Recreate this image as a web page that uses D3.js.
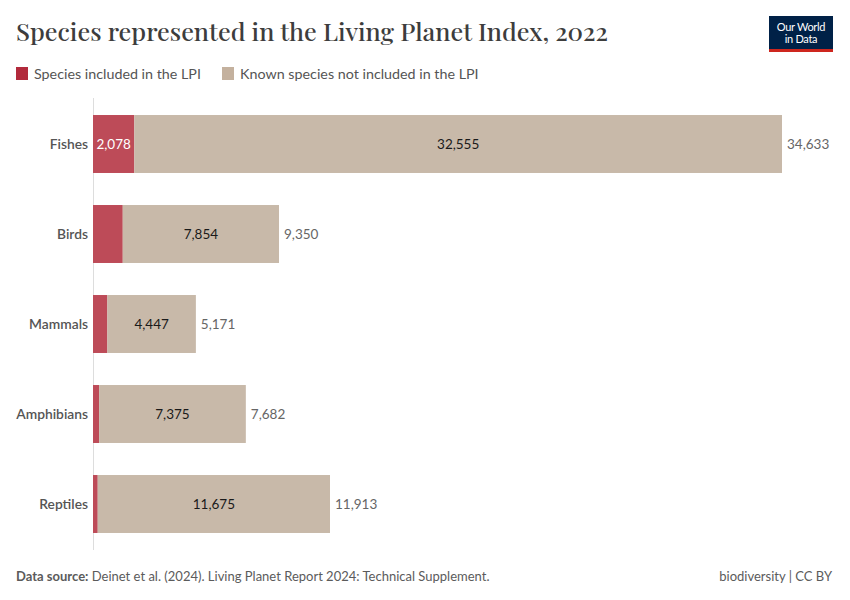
<!DOCTYPE html>
<html><head><meta charset="utf-8">
<script src="https://cdn.jsdelivr.net/npm/d3@7"></script>
<style>body{margin:0;background:#fff}svg{display:block}text{font-family:Lato,"Noto Sans",sans-serif}</style>
</head><body><svg id="c" width="850" height="600"></svg>
<script>
const categories = ["Fishes","Birds","Mammals","Amphibians","Reptiles"];
const included = [2078,1496,724,307,238];
const notIncluded = [32555,7854,4447,7375,11675];
const seriesNames = ["Species included in the LPI","Known species not included in the LPI"];
const colors = ["#bd4b58","#c8b9a9"];
const legendColors = ["#b22a3c","#c4b19e"];

const svg = d3.select("#c");
const fmt = d3.format(",");
const data = categories.map((c,i)=>({c, a:included[i], b:notIncluded[i], t:included[i]+notIncluded[i]}));

// title
const title = svg.append("text").attr("x",16).attr("y",41)
  .style("font-family","'Playfair Display','DejaVu Serif','Liberation Serif',serif")
  .style("font-size","25px").style("font-weight","500").attr("fill","#3d3d3d").text("Species represented in the Living Planet Index, 2022");
title.attr("textLength",592).attr("lengthAdjust","spacingAndGlyphs");

// logo
const logo = svg.append("g").attr("transform","translate(769,16)");
logo.append("rect").attr("width",64).attr("height",36).attr("fill","#002147");
logo.append("rect").attr("y",33).attr("width",64).attr("height",3).attr("fill","#ce261e");
logo.append("text").attr("x",32).attr("y",15).attr("text-anchor","middle").attr("fill","#fff").style("font-size","11px").style("letter-spacing","-0.3px").text("Our World");
logo.append("text").attr("x",32).attr("y",27).attr("text-anchor","middle").attr("fill","#fff").style("font-size","11px").style("letter-spacing","-0.3px").text("in Data");

// legend
const legX = [16,222];
seriesNames.forEach((n,i)=>{
  svg.append("rect").attr("x",legX[i]).attr("y",67).attr("width",12).attr("height",13).attr("fill",legendColors[i]);
  svg.append("text").attr("x",legX[i]+18).attr("y",78.5).style("font-size","14.3px").attr("fill","#555").text(n);
});

const x = d3.scaleLinear().domain([0,34633]).range([93,782]);
const y = d3.scaleBand().domain(categories).range([99,549]).paddingInner(0.356).paddingOuter(0.178);

// axis line
svg.append("line").attr("x1",93.5).attr("x2",93.5).attr("y1",98).attr("y2",550).attr("stroke","#ddd").attr("stroke-width",1);

const g = svg.append("g");
g.selectAll(".a").data(data).join("rect").attr("x",x(0)).attr("y",d=>y(d.c))
  .attr("width",d=>x(d.a)-x(0)).attr("height",y.bandwidth()).attr("fill",colors[0]);
g.selectAll(".b").data(data).join("rect").attr("x",d=>x(d.a)).attr("y",d=>y(d.c))
  .attr("width",d=>x(d.t)-x(d.a)).attr("height",y.bandwidth()).attr("fill",colors[1]);

// category labels
g.selectAll(".cl").data(data).join("text").attr("x",88).attr("y",d=>y(d.c)+y.bandwidth()/2+5)
  .attr("text-anchor","end").style("font-size","13.8px").style("font-weight","600").attr("fill","#555").text(d=>d.c);

// inside labels
data.forEach(d=>{
  const cy = y(d.c)+y.bandwidth()/2+5;
  if (x(d.a)-x(0) > 35) {
    g.append("text").attr("x",(x(0)+x(d.a))/2).attr("y",cy).attr("text-anchor","middle")
      .style("font-size","13.5px").attr("fill","#fff").text(fmt(d.a));
  }
  g.append("text").attr("x",(x(d.a)+x(d.t))/2).attr("y",cy).attr("text-anchor","middle")
    .style("font-size","13.5px").attr("fill","#1a1a1a").text(fmt(d.b));
  g.append("text").attr("x",x(d.t)+5).attr("y",cy).style("font-size","13.5px").attr("fill","#666").text(fmt(d.t));
});

// footer
const f = svg.append("text").attr("x",16).attr("y",581).style("font-size","13px").attr("fill","#5b5b5b");
f.append("tspan").style("font-weight","700").text("Data source:");
f.append("tspan").text(" Deinet et al. (2024). Living Planet Report 2024: Technical Supplement.");
svg.append("text").attr("x",832).attr("y",581).attr("text-anchor","end").style("font-size","13px").attr("fill","#5b5b5b").text("biodiversity | CC BY");
</script></body></html>
